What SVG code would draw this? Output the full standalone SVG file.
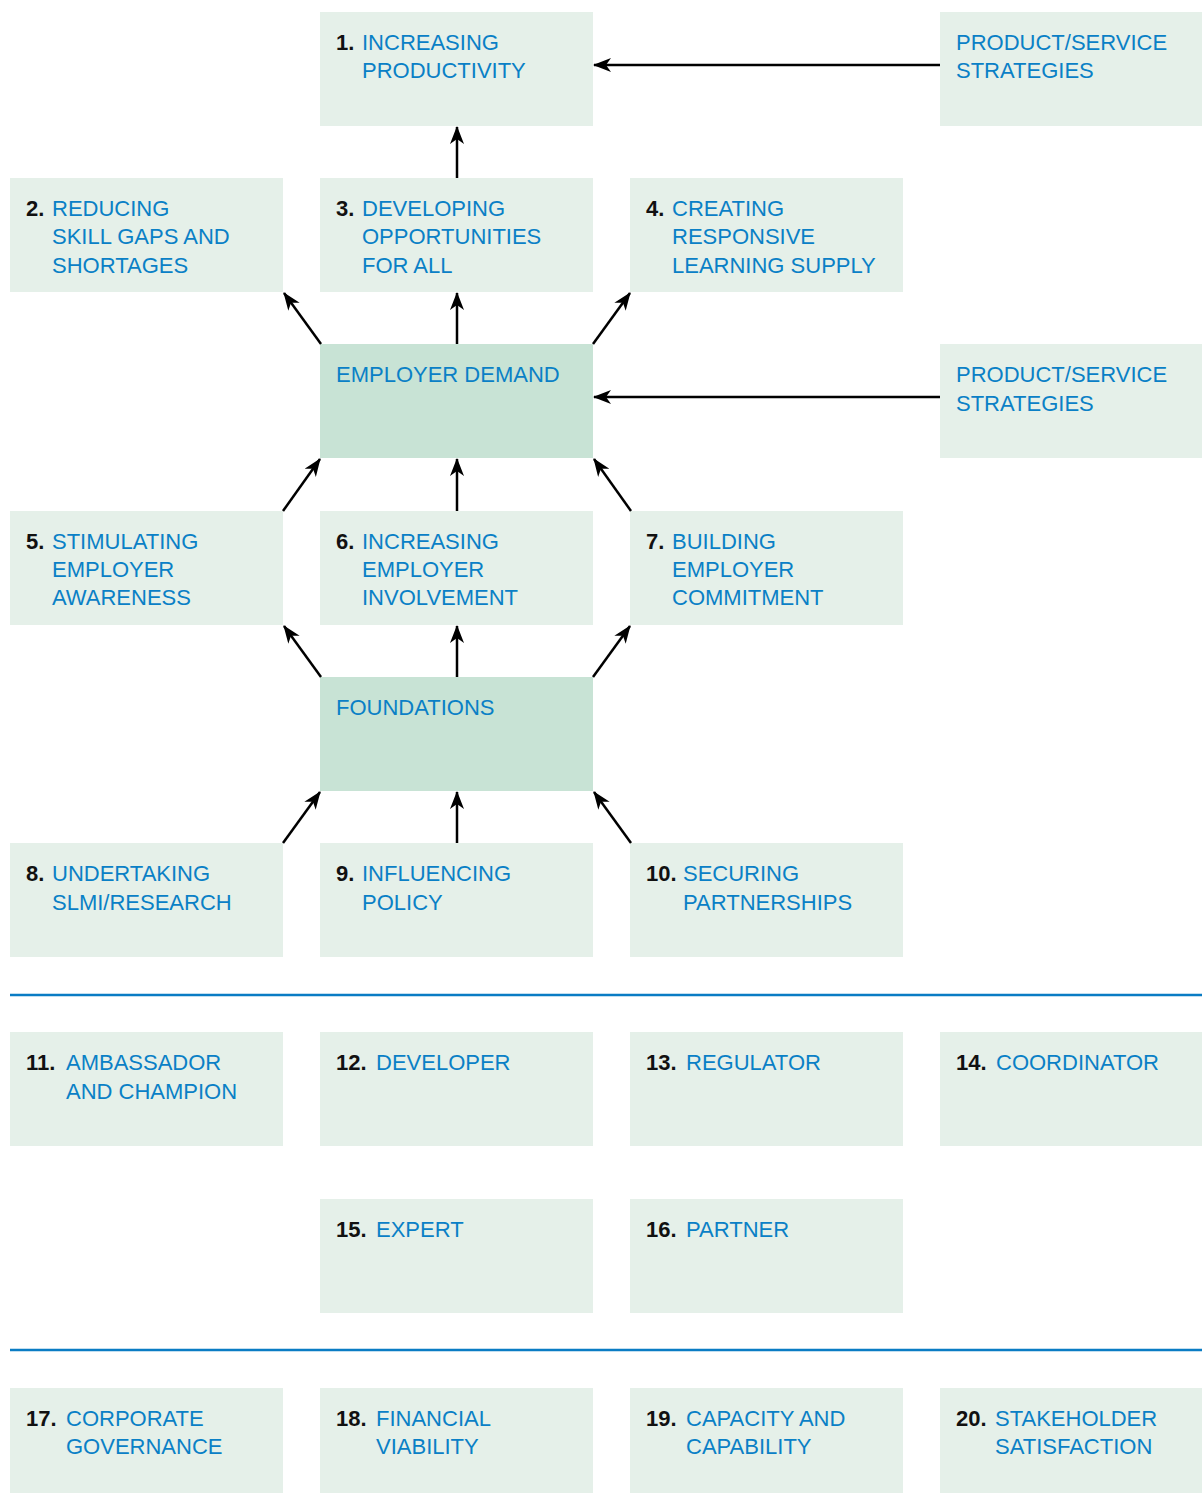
<svg xmlns="http://www.w3.org/2000/svg" width="1202" height="1493" viewBox="0 0 1202 1493">
<defs>
<style>
.b{fill:#e5f0e9}
.d{fill:#c8e3d5}
.t{font-family:"Liberation Sans",Arial,sans-serif;font-size:22px;fill:#0a80c6}
.n{font-weight:bold;fill:#111}
.c line{stroke:#000;stroke-width:2.5;marker-end:url(#ah)}
.r{stroke:#0a7cc4;stroke-width:2.5}
</style>
<marker id="ah" viewBox="0 0 18 14" refX="17" refY="7" markerWidth="18" markerHeight="14" markerUnits="userSpaceOnUse" orient="auto">
<path d="M0,0 L18,7 L0,14 L5,7 Z" fill="#000"/>
</marker>
</defs>
<rect width="1202" height="1493" fill="#fff"/>

<g id="n1"><rect class="b" x="320" y="12" width="273" height="114"/><text class="t" x="336" y="50"><tspan class="n">1.</tspan><tspan x="362">INCREASING</tspan><tspan x="362" y="78">PRODUCTIVITY</tspan></text></g>
<g id="ps1"><rect class="b" x="940" y="12" width="262" height="114"/><text class="t" x="956" y="50">PRODUCT/SERVICE<tspan x="956" y="78">STRATEGIES</tspan></text></g>

<g id="n2"><rect class="b" x="10" y="178" width="273" height="114"/><text class="t" x="26" y="216"><tspan class="n">2.</tspan><tspan x="52">REDUCING</tspan><tspan x="52" y="244">SKILL GAPS AND</tspan><tspan x="52" y="273">SHORTAGES</tspan></text></g>
<g id="n3"><rect class="b" x="320" y="178" width="273" height="114"/><text class="t" x="336" y="216"><tspan class="n">3.</tspan><tspan x="362">DEVELOPING</tspan><tspan x="362" y="244">OPPORTUNITIES</tspan><tspan x="362" y="273">FOR ALL</tspan></text></g>
<g id="n4"><rect class="b" x="630" y="178" width="273" height="114"/><text class="t" x="646" y="216"><tspan class="n">4.</tspan><tspan x="672">CREATING</tspan><tspan x="672" y="244">RESPONSIVE</tspan><tspan x="672" y="273">LEARNING SUPPLY</tspan></text></g>

<g id="ed"><rect class="d" x="320" y="344" width="273" height="114"/><text class="t" x="336" y="382">EMPLOYER DEMAND</text></g>
<g id="ps2"><rect class="b" x="940" y="344" width="262" height="114"/><text class="t" x="956" y="382">PRODUCT/SERVICE<tspan x="956" y="411">STRATEGIES</tspan></text></g>

<g id="n5"><rect class="b" x="10" y="511" width="273" height="114"/><text class="t" x="26" y="549"><tspan class="n">5.</tspan><tspan x="52">STIMULATING</tspan><tspan x="52" y="577">EMPLOYER</tspan><tspan x="52" y="605">AWARENESS</tspan></text></g>
<g id="n6"><rect class="b" x="320" y="511" width="273" height="114"/><text class="t" x="336" y="549"><tspan class="n">6.</tspan><tspan x="362">INCREASING</tspan><tspan x="362" y="577">EMPLOYER</tspan><tspan x="362" y="605">INVOLVEMENT</tspan></text></g>
<g id="n7"><rect class="b" x="630" y="511" width="273" height="114"/><text class="t" x="646" y="549"><tspan class="n">7.</tspan><tspan x="672">BUILDING</tspan><tspan x="672" y="577">EMPLOYER</tspan><tspan x="672" y="605">COMMITMENT</tspan></text></g>

<g id="fd"><rect class="d" x="320" y="677" width="273" height="114"/><text class="t" x="336" y="715">FOUNDATIONS</text></g>

<g id="n8"><rect class="b" x="10" y="843" width="273" height="114"/><text class="t" x="26" y="881"><tspan class="n">8.</tspan><tspan x="52">UNDERTAKING</tspan><tspan x="52" y="910">SLMI/RESEARCH</tspan></text></g>
<g id="n9"><rect class="b" x="320" y="843" width="273" height="114"/><text class="t" x="336" y="881"><tspan class="n">9.</tspan><tspan x="362">INFLUENCING</tspan><tspan x="362" y="910">POLICY</tspan></text></g>
<g id="n10"><rect class="b" x="630" y="843" width="273" height="114"/><text class="t" x="646" y="881"><tspan class="n">10.</tspan><tspan x="683">SECURING</tspan><tspan x="683" y="910">PARTNERSHIPS</tspan></text></g>

<line class="r" x1="10" y1="995" x2="1202" y2="995"/>

<g id="n11"><rect class="b" x="10" y="1032" width="273" height="114"/><text class="t" x="26" y="1070"><tspan class="n">11.</tspan><tspan x="66">AMBASSADOR</tspan><tspan x="66" y="1099">AND CHAMPION</tspan></text></g>
<g id="n12"><rect class="b" x="320" y="1032" width="273" height="114"/><text class="t" x="336" y="1070"><tspan class="n">12.</tspan><tspan x="376">DEVELOPER</tspan></text></g>
<g id="n13"><rect class="b" x="630" y="1032" width="273" height="114"/><text class="t" x="646" y="1070"><tspan class="n">13.</tspan><tspan x="686">REGULATOR</tspan></text></g>
<g id="n14"><rect class="b" x="940" y="1032" width="262" height="114"/><text class="t" x="956" y="1070"><tspan class="n">14.</tspan><tspan x="996">COORDINATOR</tspan></text></g>

<g id="n15"><rect class="b" x="320" y="1199" width="273" height="114"/><text class="t" x="336" y="1237"><tspan class="n">15.</tspan><tspan x="376">EXPERT</tspan></text></g>
<g id="n16"><rect class="b" x="630" y="1199" width="273" height="114"/><text class="t" x="646" y="1237"><tspan class="n">16.</tspan><tspan x="686">PARTNER</tspan></text></g>

<line class="r" x1="10" y1="1350" x2="1202" y2="1350"/>

<g id="n17"><rect class="b" x="10" y="1388" width="273" height="105"/><text class="t" x="26" y="1426"><tspan class="n">17.</tspan><tspan x="66">CORPORATE</tspan><tspan x="66" y="1454">GOVERNANCE</tspan></text></g>
<g id="n18"><rect class="b" x="320" y="1388" width="273" height="105"/><text class="t" x="336" y="1426"><tspan class="n">18.</tspan><tspan x="376">FINANCIAL</tspan><tspan x="376" y="1454">VIABILITY</tspan></text></g>
<g id="n19"><rect class="b" x="630" y="1388" width="273" height="105"/><text class="t" x="646" y="1426"><tspan class="n">19.</tspan><tspan x="686">CAPACITY AND</tspan><tspan x="686" y="1454">CAPABILITY</tspan></text></g>
<g id="n20"><rect class="b" x="940" y="1388" width="262" height="105"/><text class="t" x="956" y="1426"><tspan class="n">20.</tspan><tspan x="995">STAKEHOLDER</tspan><tspan x="995" y="1454">SATISFACTION</tspan></text></g>

<g id="connectors" class="c">
<line x1="940" y1="65" x2="594" y2="65"/>
<line x1="457" y1="178" x2="457" y2="127"/>
<line x1="321" y1="344" x2="284" y2="293"/>
<line x1="457" y1="344" x2="457" y2="293"/>
<line x1="593" y1="344" x2="630" y2="293"/>
<line x1="940" y1="397" x2="594" y2="397"/>
<line x1="283" y1="511" x2="320" y2="459"/>
<line x1="457" y1="511" x2="457" y2="459"/>
<line x1="631" y1="511" x2="594" y2="459"/>
<line x1="321" y1="677" x2="284" y2="626"/>
<line x1="457" y1="677" x2="457" y2="626"/>
<line x1="593" y1="677" x2="630" y2="626"/>
<line x1="283" y1="843" x2="320" y2="792"/>
<line x1="457" y1="843" x2="457" y2="792"/>
<line x1="631" y1="843" x2="594" y2="792"/>
</g>
</svg>
